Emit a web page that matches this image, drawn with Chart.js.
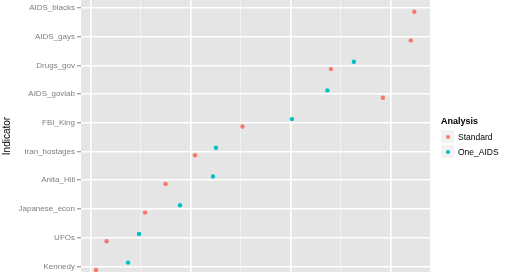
<!DOCTYPE html>
<html>
<head>
<meta charset="utf-8">
<script src="https://cdn.jsdelivr.net/npm/chart.js@4"></script>
<style>
  body { margin: 0; background: #fff; font-family: "Liberation Sans", Arial, sans-serif; }
  #wrap { position: relative; width: 520px; height: 272px; }
  #legend { position: absolute; left: 441px; top: 116px; font-size: 9px; color: #000; }
  #legend .ttl { font-weight: bold; margin-bottom: 3px; }
  #legend .item { display: flex; align-items: center; height: 15px; font-size: 8.5px; }
  #legend .key { width: 13px; height: 13px; background: #f2f2f2; position: relative; margin-right: 4px; border-bottom: 1px solid #fff; }
  #legend .dot { position: absolute; left: 5px; top: 5px; width: 4px; height: 4px; border-radius: 50%; }
</style>
</head>
<body>
<div id="wrap">
  <canvas id="dotChart"></canvas>
  <div id="legend"></div>
</div>
<script>
// categories listed top to bottom as they appear
var categories = ['AIDS_blacks', 'AIDS_gays', 'Drugs_gov', 'AIDS_govlab', 'FBI_King',
                  'Iran_hostages', 'Anita_Hill', 'Japanese_econ', 'UFOs', 'Kennedy'];
var seriesNames = ['Standard', 'One_AIDS'];
var standard = [0.848, 0.841, 0.681, 0.785, 0.504, 0.409, 0.350, 0.309, 0.232, 0.211];
var oneAids = [null, null, 0.727, 0.674, 0.603, 0.451, 0.445, 0.379, 0.297, 0.275];
var xGrid = [0.2, 0.3, 0.4, 0.5, 0.6, 0.7, 0.8];
var colors = ['#F8766D', '#00BFC4'];

var n = categories.length;
var dodge = 0.129;

function toPoints(vals, off) {
    var pts = [];
    for (var i = 0; i < vals.length; i++) {
        if (vals[i] === null) continue;
        pts.push({ x: vals[i], y: (n - 1 - i) + off });
    }
    return pts;
}

function isMajor(v) {
    return Math.abs(v * 10 % 2) < 0.01 || Math.abs(v * 10 % 2 - 2) < 0.01;
}

var panelBg = {
    id: 'panelBg',
    beforeDraw: function (chart) {
        var a = chart.chartArea;
        var c = chart.ctx;
        c.save();
        c.fillStyle = '#E5E5E5';
        c.fillRect(a.left, a.top, a.right - a.left, a.bottom - a.top);
        c.restore();
    }
};

var ctx = document.getElementById('dotChart').getContext('2d');
var dotChart = new Chart(ctx, {
    type: 'scatter',
    data: {
        datasets: [{
            label: seriesNames[0],
            data: toPoints(standard, -dodge),
            backgroundColor: colors[0],
            borderWidth: 0,
            pointRadius: 2.2
        }, {
            label: seriesNames[1],
            data: toPoints(oneAids, dodge),
            backgroundColor: colors[1],
            borderWidth: 0,
            pointRadius: 2.2
        }]
    },
    options: {
        responsive: true,
        maintainAspectRatio: false,
        animation: false,
        layout: { autoPadding: false, padding: { left: 0, right: 90, top: 0, bottom: 0 } },
        plugins: {
            legend: { display: false },
            tooltip: { enabled: false }
        },
        scales: {
            x: {
                type: 'linear',
                min: 0.1808,
                max: 0.8794,
                afterBuildTicks: function (scale) {
                    scale.ticks = xGrid.map(function (v) { return { value: v }; });
                },
                afterFit: function (scale) {
                    scale.height = 0;
                    scale.paddingLeft = 0;
                    scale.paddingRight = 0;
                },
                ticks: { display: false },
                border: { display: false },
                grid: {
                    drawTicks: false,
                    color: function (c) { return isMajor(c.tick.value) ? '#ffffff' : '#F2F2F2'; },
                    lineWidth: function (c) { return isMajor(c.tick.value) ? 1.6 : 0.9; }
                }
            },
            y: {
                type: 'linear',
                min: -0.198,
                max: 9.279,
                afterBuildTicks: function (scale) {
                    scale.ticks = categories.map(function (c, i) { return { value: i }; });
                },
                afterFit: function (scale) {
                    scale.width = 81;
                    scale.paddingTop = 0;
                    scale.paddingBottom = 0;
                },
                ticks: {
                    color: '#7f7f7f',
                    font: { family: 'Liberation Sans', size: 8 },
                    padding: 2,
                    callback: function (v) { return categories[n - 1 - v]; }
                },
                border: { display: false },
                grid: {
                    color: '#ffffff',
                    lineWidth: 1.6,
                    tickColor: '#7f7f7f',
                    tickLength: 4,
                    tickWidth: 1
                },
                title: {
                    display: true,
                    text: 'Indicator',
                    color: '#000',
                    font: { family: 'Liberation Sans', size: 10 },
                    padding: { top: 1, bottom: 0 }
                }
            }
        }
    },
    plugins: [panelBg]
});

// legend in ggplot style
var lg = document.getElementById('legend');
var html = '<div class="ttl">Analysis</div>';
for (var i = 0; i < seriesNames.length; i++) {
    html += '<div class="item"><div class="key"><div class="dot" style="background:' + colors[i] + '"></div></div>' + seriesNames[i] + '</div>';
}
lg.innerHTML = html;
</script>
</body>
</html>
